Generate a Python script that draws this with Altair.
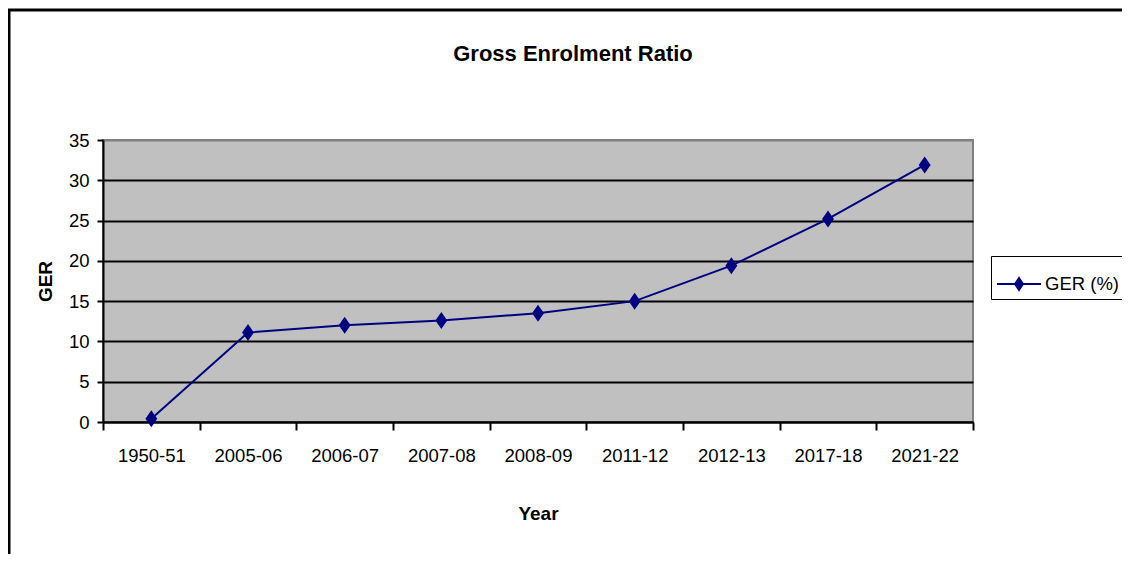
import altair as alt
import pandas as pd

years = ["1950-51", "2005-06", "2006-07", "2007-08", "2008-09",
         "2011-12", "2012-13", "2017-18", "2021-22"]
ger = [0.4, 11.1, 12.0, 12.6, 13.5, 15.0, 19.4, 25.2, 31.9]
series = ["GER (%)"] * len(years)
y_ticks = [0, 5, 10, 15, 20, 25, 30, 35]

df = pd.DataFrame({"Year": years, "GER": ger, "Series": series})

NAVY = "#000080"
FONT = "Liberation Sans, Arial, sans-serif"
DIAMOND = "M0,-1L0.7,0L0,1L-0.7,0Z"
LEG_SYMBOL = "M-1,0L1,0M-0.18,0L0,-0.27L0.18,0L0,0.27Z"

x_enc = alt.X(
    "Year:N", sort=years, bandPosition=0.5,
    scale=alt.Scale(type="band", paddingInner=0, paddingOuter=0),
    axis=alt.Axis(title="Year", labelAngle=0, tickBand="extent", grid=False,
                  tickSize=8, labelPadding=16, titleY=91, titleBaseline="middle",
                  titleFontSize=19),
)
y_enc = alt.Y(
    "GER:Q", scale=alt.Scale(domain=[0, 35], nice=False),
    axis=alt.Axis(title="GER", values=y_ticks, tickSize=6, labelPadding=8,
                  grid=True, gridWidth=2,
                  gridColor=alt.condition("datum.value == 35", alt.value("#808080"), alt.value("black")),
                  titleX=-58, titleY=141, titleAngle=270, titleBaseline="middle",
                  titleFontSize=19),
)

frame = alt.Chart(pd.DataFrame({"k": [0]})).mark_rect(
    fillOpacity=0, stroke="black", strokeWidth=3
).encode(x=alt.value(-94), x2=alt.value(1200), y=alt.value(-130), y2=alt.value(700))

line = alt.Chart(df).mark_line(strokeWidth=2).encode(
    x=x_enc, y=y_enc,
    color=alt.Color("Series:N", scale=alt.Scale(range=[NAVY]),
                    legend=alt.Legend(title=None, orient="none", legendX=888, legendY=116,
                                      symbolType=LEG_SYMBOL, symbolSize=1936,
                                      symbolStrokeWidth=2, symbolFillColor=NAVY,
                                      symbolStrokeColor=NAVY,
                                      labelFont=FONT, labelFontSize=18.5, labelColor="black",
                                      labelOffset=3, padding=5, strokeColor="black",
                                      fillColor="white")),
)

points = alt.Chart(df).mark_point(shape=DIAMOND, filled=True, size=289, color=NAVY, opacity=1).encode(
    x=x_enc, y=y_enc
)

chart = alt.layer(frame, line, points).properties(
    width=870, height=282,
    background="white",
    title=alt.TitleParams("Gross Enrolment Ratio", font=FONT, fontSize=22, fontWeight="bold",
                          anchor="middle", dx=35, offset=-74, baseline="alphabetic", color="black"),
    autosize=alt.AutoSizeParams(type="none"),
    padding={"left": 95, "top": 132, "right": 149, "bottom": 132},
).configure_view(
    fill="#C0C0C0", stroke="#808080", strokeWidth=2
).configure_axis(
    domainColor="black", domainWidth=2, tickColor="black", tickWidth=2,
    labelFont=FONT, labelFontSize=18.5, labelColor="black",
    titleFont=FONT, titleFontWeight="bold", titleColor="black",
)

chart.save("out.html", embed_options={"renderer": "svg", "actions": False})
